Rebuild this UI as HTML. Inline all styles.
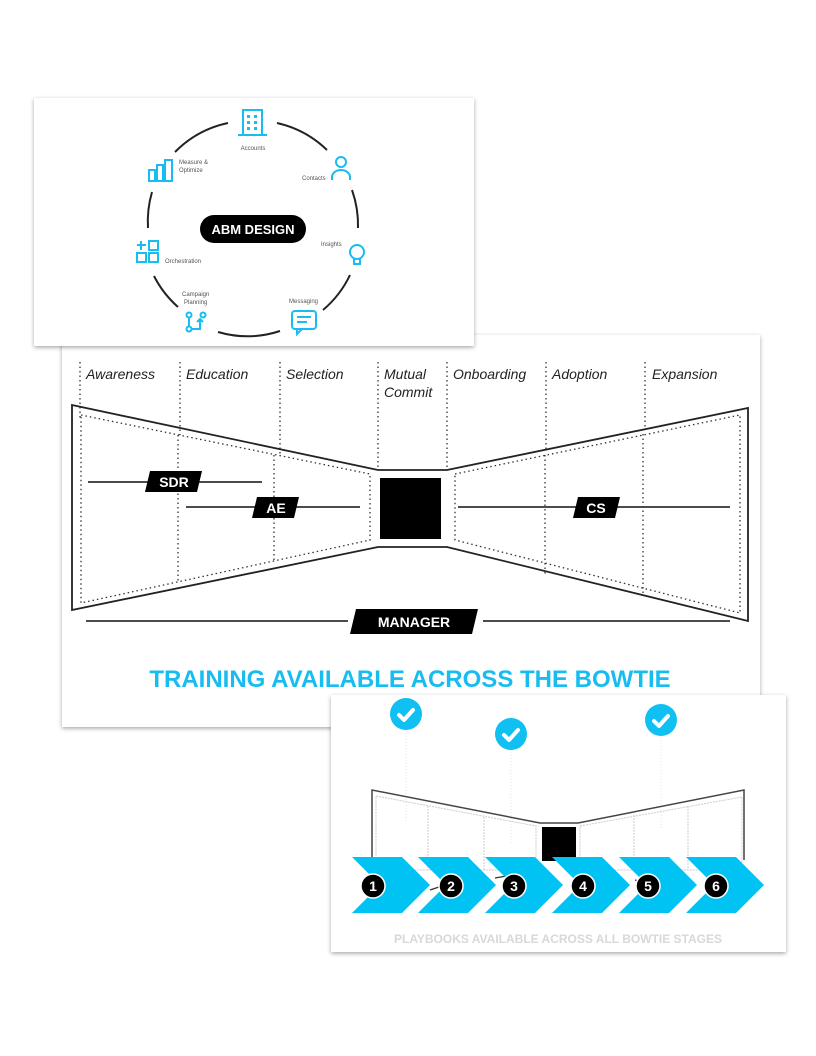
<!DOCTYPE html>
<html><head><meta charset="utf-8"><style>
body{margin:0;background:#fff}
svg{display:block;font-family:"Liberation Sans",sans-serif}
</style></head><body>
<svg width="816" height="1056" viewBox="0 0 816 1056" xmlns="http://www.w3.org/2000/svg">
<defs>
<filter id="sh" x="-5%" y="-5%" width="110%" height="115%"><feDropShadow dx="0" dy="1.5" stdDeviation="2" flood-color="#000" flood-opacity="0.35"/></filter>
</defs>

<!-- Panel 2 -->
<rect x="62" y="335" width="698" height="392" fill="#fff" filter="url(#sh)"/>
<g stroke="#333" stroke-width="1.3" stroke-dasharray="1.5 3" fill="none">
<line x1="80" y1="362" x2="80" y2="420"/><line x1="180" y1="362" x2="180" y2="435"/>
<line x1="280" y1="362" x2="280" y2="455"/><line x1="378" y1="362" x2="378" y2="470"/>
<line x1="447" y1="362" x2="447" y2="470"/><line x1="546" y1="362" x2="546" y2="450"/>
<line x1="645" y1="362" x2="645" y2="430"/>
<polygon points="81,415 370,474 370,540 81,603"/>
<polygon points="455,474 740,415 740,613 455,540"/>
<line x1="178" y1="435" x2="178" y2="583"/><line x1="274" y1="455" x2="274" y2="563"/>
<line x1="545" y1="455" x2="545" y2="575"/><line x1="643" y1="434" x2="643" y2="596"/>
</g>
<g font-style="italic" font-size="14" fill="#222">
<text x="86" y="379">Awareness</text><text x="186" y="379">Education</text>
<text x="286" y="379">Selection</text><text x="384" y="379">Mutual</text><text x="384" y="397">Commit</text>
<text x="453" y="379">Onboarding</text><text x="552" y="379">Adoption</text><text x="652" y="379">Expansion</text>
</g>
<polygon points="72,405 378,470 447,470 748,408 748,621 447,547 378,547 72,610" fill="none" stroke="#222" stroke-width="1.8"/>
<rect x="380" y="478" width="61" height="61" fill="#000"/>
<g stroke="#333" stroke-width="1.8">
<line x1="88" y1="482" x2="262" y2="482"/><line x1="186" y1="507" x2="360" y2="507"/>
<line x1="458" y1="507" x2="730" y2="507"/>
<line x1="86" y1="621" x2="348" y2="621"/><line x1="483" y1="621" x2="730" y2="621"/>
</g>
<g fill="#000">
<polygon points="150,471 202,471 197,492 145,492"/>
<polygon points="257,497 299,497 294,518 252,518"/>
<polygon points="578,497 620,497 615,518 573,518"/>
<polygon points="356,609 478,609 472,634 350,634"/>
</g>
<g fill="#fff" font-weight="bold" font-size="14" text-anchor="middle">
<text x="174" y="487">SDR</text><text x="276" y="513">AE</text><text x="596" y="513">CS</text>
<text x="414" y="627">MANAGER</text>
</g>
<text x="410" y="687" text-anchor="middle" font-weight="bold" font-size="24" fill="#17bdf0">TRAINING AVAILABLE ACROSS THE BOWTIE</text>

<!-- Panel 1 -->
<rect x="34" y="98" width="440" height="248" fill="#fff" filter="url(#sh)"/>
<g fill="none" stroke="#222" stroke-width="2">
<path d="M228,123 A105,105 0 0 0 175,152"/>
<path d="M277,123 A105,105 0 0 1 327,150"/>
<path d="M352,190 A105,105 0 0 1 358,228"/>
<path d="M350,275 A105,105 0 0 1 323,310"/>
<path d="M280,331 A105,105 0 0 1 218,332"/>
<path d="M178,307 A105,105 0 0 1 154,276"/>
<path d="M148,228 A105,105 0 0 1 152,192"/>
</g>
<rect x="200" y="215" width="106" height="28" rx="14" fill="#000"/>
<text x="253" y="234" text-anchor="middle" fill="#fff" font-weight="bold" font-size="13">ABM DESIGN</text>
<g fill="none" stroke="#17bdf0" stroke-width="2">
<rect x="243" y="110" width="19" height="25"/><line x1="238" y1="135" x2="267" y2="135"/>
<circle cx="341" cy="162" r="5"/><path d="M332,180 v-3 a9,7 0 0 1 18,0 v3"/>
<circle cx="357" cy="252" r="7"/><path d="M354,259 v5 h6 v-5"/>
<rect x="292" y="311" width="24" height="18" rx="3"/><path d="M297,329 v5 l5,-5"/>
<line x1="297" y1="317" x2="311" y2="317"/><line x1="297" y1="322" x2="307" y2="322"/>
<circle cx="189" cy="315" r="2.5"/><circle cx="203" cy="315" r="2.5"/><circle cx="189" cy="329" r="2.5"/>
<path d="M189,318 v8 M191,329 h9 v-9 M197,322 l3,-3 l3,3"/>
<rect x="149" y="241" width="9" height="9"/><rect x="137" y="253" width="9" height="9"/><rect x="149" y="253" width="9" height="9"/>
<path d="M141,241 v9 M137,245 h9"/>
<rect x="149" y="170" width="6" height="11"/><rect x="157" y="165" width="6" height="16"/><rect x="165" y="160" width="7" height="21"/>
</g>
<g fill="#17bdf0"><rect x="247" y="115" width="3" height="3"/><rect x="254" y="115" width="3" height="3"/><rect x="247" y="121" width="3" height="3"/><rect x="254" y="121" width="3" height="3"/><rect x="247" y="127" width="3" height="3"/><rect x="254" y="127" width="3" height="3"/></g>
<g font-size="6" fill="#555">
<text x="253" y="150" text-anchor="middle">Accounts</text>
<text x="302" y="180">Contacts</text><text x="321" y="246">Insights</text>
<text x="289" y="303">Messaging</text><text x="182" y="296">Campaign</text><text x="184" y="304">Planning</text>
<text x="165" y="263">Orchestration</text><text x="179" y="164">Measure &amp;</text><text x="179" y="172">Optimize</text>
</g>

<!-- Panel 3 -->
<rect x="331" y="695" width="455" height="257" fill="#fff" filter="url(#sh)"/>
<g stroke="#cfe9f5" stroke-width="1" stroke-dasharray="1 2">
<line x1="406" y1="730" x2="406" y2="822"/><line x1="511" y1="752" x2="511" y2="843"/><line x1="661" y1="737" x2="661" y2="830"/>
</g>
<g stroke="#ccc" stroke-width="1" fill="none" stroke-dasharray="2 1">
<polygon points="376,796 536,826 536,870 376,870"/><polygon points="580,826 742,797 742,870 580,870"/>
<line x1="428" y1="806" x2="428" y2="870"/><line x1="484" y1="817" x2="484" y2="870"/>
<line x1="634" y1="815" x2="634" y2="870"/><line x1="688" y1="806" x2="688" y2="870"/>
</g>
<polyline points="372,860 372,790 540,823 578,823 744,790 744,860" fill="none" stroke="#444" stroke-width="1.5"/>
<rect x="542" y="827" width="34" height="34" fill="#000"/>
<g stroke="#333" stroke-width="1.3"><line x1="430" y1="890" x2="460" y2="880"/><line x1="495" y1="878" x2="530" y2="872"/><line x1="635" y1="880" x2="670" y2="890"/></g>
<g fill="#00c3f4">
<polygon points="352,857 402,857 430,885 402,913 352,913 380,885"/>
<polygon points="418,857 468,857 496,885 468,913 418,913 446,885"/>
<polygon points="485,857 535,857 563,885 535,913 485,913 513,885"/>
<polygon points="552,857 602,857 630,885 602,913 552,913 580,885"/>
<polygon points="619,857 669,857 697,885 669,913 619,913 647,885"/>
<polygon points="686,857 736,857 764,885 736,913 686,913 714,885"/>
</g>
<g fill="#000" stroke="#fff" stroke-width="1.5">
<circle cx="373" cy="886" r="12"/><circle cx="451" cy="886" r="12"/><circle cx="514" cy="886" r="12"/>
<circle cx="583" cy="886" r="12"/><circle cx="648" cy="886" r="12"/><circle cx="716" cy="886" r="12"/>
</g>
<g fill="#fff" font-weight="bold" font-size="14" text-anchor="middle">
<text x="373" y="891">1</text><text x="451" y="891">2</text><text x="514" y="891">3</text>
<text x="583" y="891">4</text><text x="648" y="891">5</text><text x="716" y="891">6</text>
</g>
<g fill="#10c0f2"><circle cx="406" cy="714" r="16"/><circle cx="511" cy="734" r="16"/><circle cx="661" cy="720" r="16"/></g>
<g fill="none" stroke="#fff" stroke-width="4" stroke-linecap="round" stroke-linejoin="round">
<path d="M399,715 l5,5 l9,-10"/><path d="M504,735 l5,5 l9,-10"/><path d="M654,721 l5,5 l9,-10"/>
</g>
<text x="558" y="943" text-anchor="middle" font-weight="bold" font-size="12" fill="#d8d8d8">PLAYBOOKS AVAILABLE ACROSS ALL BOWTIE STAGES</text>
</svg>
</body></html>
